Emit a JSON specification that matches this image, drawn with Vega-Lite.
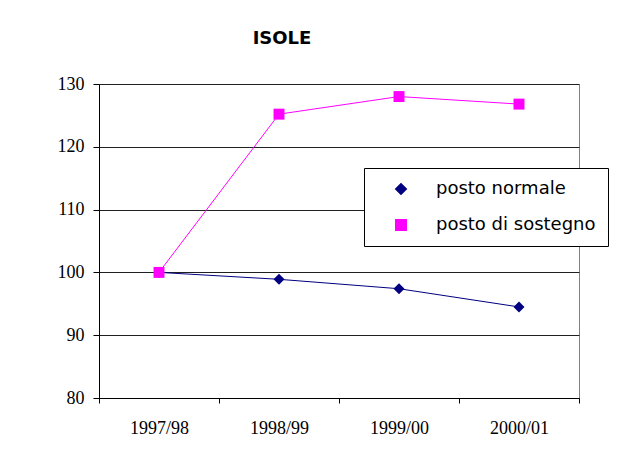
{
  "$schema": "https://vega.github.io/schema/vega-lite/v6.json",
  "width": 480,
  "height": 314,
  "autosize": "none",
  "padding": {"left": 99, "top": 84, "right": 50, "bottom": 59},
  "background": "white",
  "title": {"text": "ISOLE", "font": "DejaVu Sans", "fontSize": 18, "fontWeight": "bold", "color": "black", "dx": -57, "offset": 27},
  "config": {
    "view": {"stroke": "#808080", "strokeWidth": 1}
  },
  "data": {
    "values": [
      {"anno": "1997/98", "serie": "posto normale", "valore": 100},
      {"anno": "1998/99", "serie": "posto normale", "valore": 98.9},
      {"anno": "1999/00", "serie": "posto normale", "valore": 97.4},
      {"anno": "2000/01", "serie": "posto normale", "valore": 94.5},
      {"anno": "1997/98", "serie": "posto di sostegno", "valore": 100},
      {"anno": "1998/99", "serie": "posto di sostegno", "valore": 125.2},
      {"anno": "1999/00", "serie": "posto di sostegno", "valore": 128.0},
      {"anno": "2000/01", "serie": "posto di sostegno", "valore": 126.8}
    ]
  },
  "encoding": {
    "x": {
      "field": "anno", "type": "ordinal",
      "sort": ["1997/98", "1998/99", "1999/00", "2000/01"],
      "scale": {"paddingInner": 0, "paddingOuter": 0},
      "axis": {"title": null, "labelAngle": 0, "tickBand": "extent", "domainColor": "black", "tickColor": "black", "tickSize": 5, "labelFont": "Liberation Serif", "labelFontSize": 18, "labelColor": "black", "labelPadding": 16, "grid": false}
    },
    "y": {
      "field": "valore", "type": "quantitative",
      "scale": {"domain": [80, 130], "nice": false, "zero": false},
      "axis": {"title": null, "values": [80, 90, 100, 110, 120, 130], "domainColor": "black", "tickColor": "black", "tickSize": 6, "labelFont": "Liberation Serif", "labelFontSize": 18, "labelColor": "black", "labelPadding": 9, "grid": true, "gridColor": "#202020", "gridOpacity": 1}
    },
    "color": {
      "field": "serie", "type": "nominal",
      "scale": {"domain": ["posto normale", "posto di sostegno"], "range": ["#000080", "#FF00FF"]},
      "legend": {
        "title": null, "orient": "none", "legendX": 265, "legendY": 84,
        "fillColor": "white", "strokeColor": "black", "padding": 12,
        "labelFont": "DejaVu Sans", "labelFontSize": 18, "labelColor": "black",
        "labelOffset": 26, "rowPadding": 18, "symbolSize": 110, "symbolOffset": 16
      }
    }
  },
  "layer": [
    {"mark": {"type": "line", "strokeWidth": 1}},
    {
      "mark": {"type": "point", "filled": true, "opacity": 1, "size": 120},
      "encoding": {
        "shape": {
          "field": "serie", "type": "nominal",
          "scale": {"domain": ["posto normale", "posto di sostegno"], "range": ["diamond", "square"]},
          "legend": null
        }
      }
    }
  ]
}
